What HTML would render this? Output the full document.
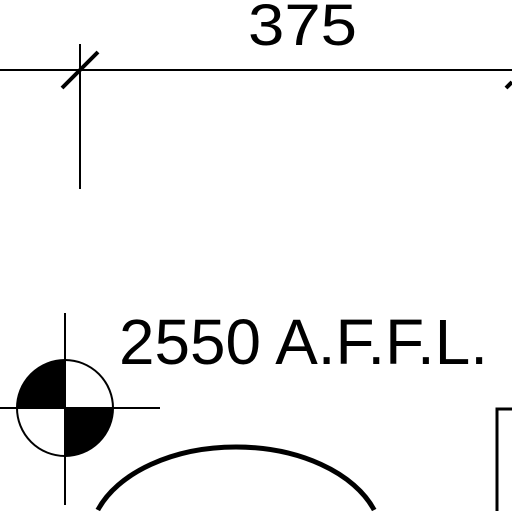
<!DOCTYPE html>
<html><head><meta charset="utf-8"><style>
html,body{margin:0;padding:0;background:#fff;width:512px;height:512px;overflow:hidden}
svg{display:block}
</style></head><body>
<svg width="512" height="512" viewBox="0 0 512 512" overflow="hidden">
<rect width="512" height="512" fill="#fff"/>
<text x="248" y="45" font-family="Liberation Sans, sans-serif" font-size="58" textLength="109" lengthAdjust="spacingAndGlyphs" fill="#000">375</text>
<line x1="0" y1="70" x2="512" y2="70" stroke="#000" stroke-width="2"/>
<line x1="62" y1="88" x2="98" y2="52" stroke="#000" stroke-width="4"/>
<line x1="80" y1="44" x2="80" y2="189" stroke="#000" stroke-width="2"/>
<line x1="506" y1="88" x2="512" y2="82" stroke="#000" stroke-width="4"/>
<text x="119" y="364" font-family="Liberation Sans, sans-serif" font-size="64" textLength="369" lengthAdjust="spacingAndGlyphs" fill="#000">2550 A.F.F.L.</text>
<g>
<path d="M65,408 L17,408 A48,48 0 0 1 65,360 Z" fill="#000"/>
<path d="M65,408 L113,408 A48,48 0 0 1 65,456 Z" fill="#000"/>
<circle cx="65" cy="408" r="48" fill="none" stroke="#000" stroke-width="2"/>
<line x1="0" y1="408" x2="160" y2="408" stroke="#000" stroke-width="2"/>
<line x1="65" y1="313" x2="65" y2="505" stroke="#000" stroke-width="2"/>
</g>
<path d="M97.8,510 A146,93 0 0 1 374.2,510" fill="none" stroke="#000" stroke-width="5"/>
<path d="M497,511 L497,409 L512,409" fill="none" stroke="#000" stroke-width="3"/>
</svg>
</body></html>
